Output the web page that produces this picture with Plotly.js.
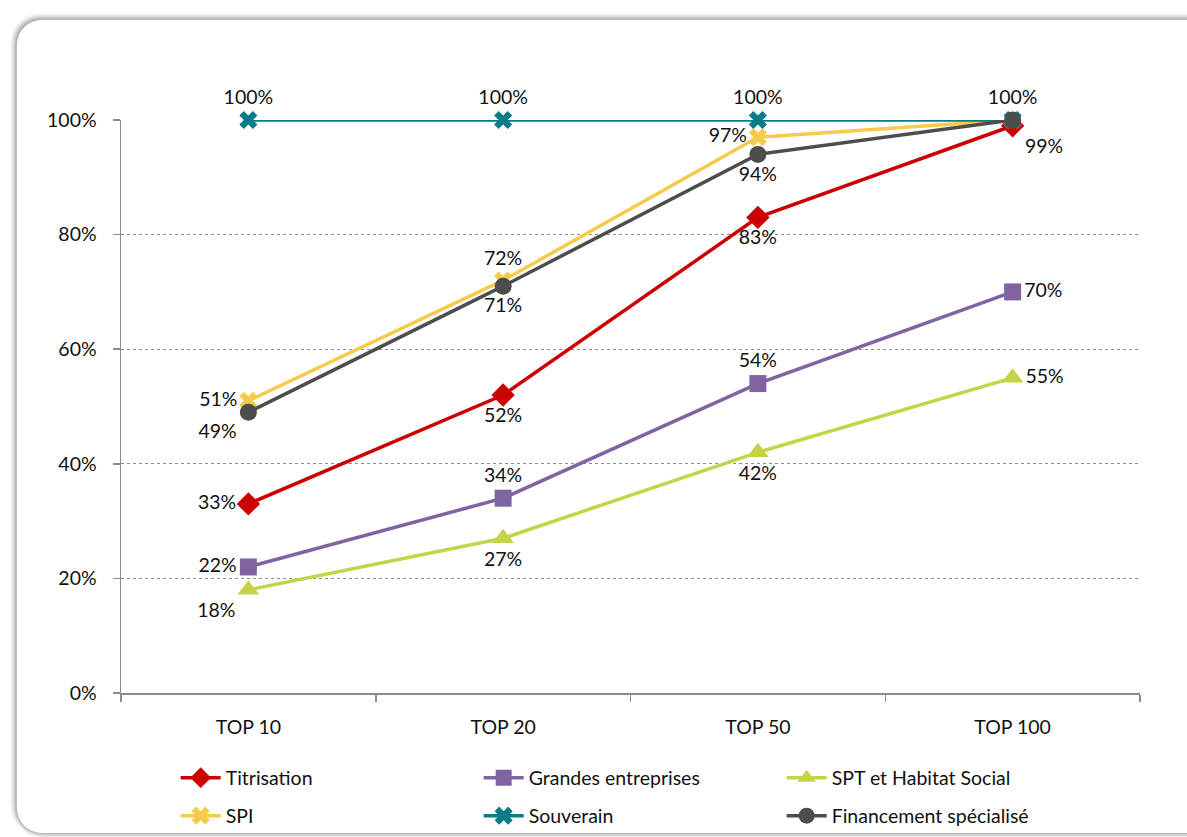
<!DOCTYPE html>
<html>
<head>
<meta charset="utf-8">
<script src="https://cdn.plot.ly/plotly-3.0.1.min.js"></script>
<style>
html,body{margin:0;padding:0;background:#fff;overflow:hidden;}
#frame{position:absolute;left:16px;top:19px;width:1200px;height:813px;border:1px solid #b8b8b8;border-radius:26px;box-shadow:-2px -2px 5px rgba(0,0,0,0.35), 2px 2px 4px rgba(0,0,0,0.2);background:#fff;}
#chart{position:absolute;left:0;top:0;width:1187px;height:837px;}
</style>
</head>
<body>
<div id="frame"></div>
<div id="chart"></div>
<script>
const categories = ["TOP 10", "TOP 20", "TOP 50", "TOP 100"];
const titrisation = [33, 52, 83, 99];
const grandesEntreprises = [22, 34, 54, 70];
const sptHabitatSocial = [18, 27, 42, 55];
const spi = [51, 72, 97, 100];
const souverain = [100, 100, 100, 100];
const financementSpecialise = [49, 71, 94, 100];
const yTicks = [0, 20, 40, 60, 80, 100];
const yTickLabels = ["0%", "20%", "40%", "60%", "80%", "100%"];

function lbl(arr, show) {
  return arr.map((v, i) => (show && !show[i]) ? "" : v + "%");
}

const FONT = "Lato, 'Open Sans', sans-serif";
const FS = 19.5;

function mk(name, y, color, symbol, size, textpos, show, legendId) {
  return {
    type: "scatter", mode: "lines+markers+text", name: name,
    x: categories, y: y,
    text: lbl(y, show), textposition: textpos,
    textfont: {family: FONT, size: FS, color: "#111"},
    line: {color: color, width: 3.5},
    marker: {color: color, symbol: symbol, size: size, line: {width: 0}},
    cliponaxis: false, hoverinfo: "skip", legend: legendId
  };
}

const data = [
  mk("Titrisation", titrisation, "#cc0000", "diamond", 18, ["middle left", "bottom center", "bottom center", "bottom right"], null, "legend"),
  mk("Grandes entreprises", grandesEntreprises, "#8064a2", "square", 17, ["middle left", "top center", "top center", "middle right"], null, "legend"),
  mk("SPT et Habitat Social", sptHabitatSocial, "#c5d447", "triangle-up", 19, ["bottom left", "bottom center", "bottom center", "middle right"], null, "legend"),
  mk("SPI", spi, "#f8ca4c", "x", 16, ["middle left", "top center", "middle left", "top center"], [1, 1, 1, 0], "legend2"),
  mk("Souverain", souverain, "#0b7b88", "x", 16, ["top center", "top center", "top center", "top center"], null, "legend2"),
  mk("Financement spécialisé", financementSpecialise, "#4d4d4d", "circle", 17, ["bottom left", "bottom center", "bottom center", "top center"], [1, 1, 1, 0], "legend2")
];

function leg(yc) {
  return {
    orientation: "h", xref: "container", yref: "container",
    x: 0.148, y: yc, xanchor: "left", yanchor: "middle",
    entrywidth: 248, entrywidthmode: "pixels",
    font: {family: FONT, size: FS, color: "#111"},
    itemwidth: 40, bgcolor: "rgba(0,0,0,0)"
  };
}

const layout = {
  width: 1187, height: 837,
  paper_bgcolor: "rgba(0,0,0,0)", plot_bgcolor: "rgba(0,0,0,0)",
  margin: {l: 121, r: 47, t: 120, b: 144},
  font: {family: FONT, size: FS, color: "#111"},
  showlegend: true,
  xaxis: {
    type: "category", range: [-0.5, 3.5],
    showline: true, linecolor: "#8c8c8c", linewidth: 1.5,
    ticks: "outside", ticklen: 7, tickcolor: "#8c8c8c", tickwidth: 1.5,
    tickson: "boundaries", showgrid: false, zeroline: false,
    ticklabelstandoff: 16,
    tickfont: {family: FONT, size: FS, color: "#111"}
  },
  yaxis: {
    range: [0, 100], tickvals: yTicks, ticktext: yTickLabels,
    showline: true, linecolor: "#8c8c8c", linewidth: 1.5,
    ticks: "outside", ticklen: 7, tickcolor: "#8c8c8c", tickwidth: 1.5,
    showgrid: true, gridcolor: "#8c8c8c", griddash: "dot", gridwidth: 1,
    zeroline: false, ticklabelstandoff: 12,
    tickfont: {family: FONT, size: FS, color: "#111"}
  },
  legend: leg(1 - 778 / 837),
  legend2: leg(1 - 816 / 837)
};

Plotly.newPlot("chart", data, layout, {displayModeBar: false, staticPlot: true});
</script>
</body>
</html>
